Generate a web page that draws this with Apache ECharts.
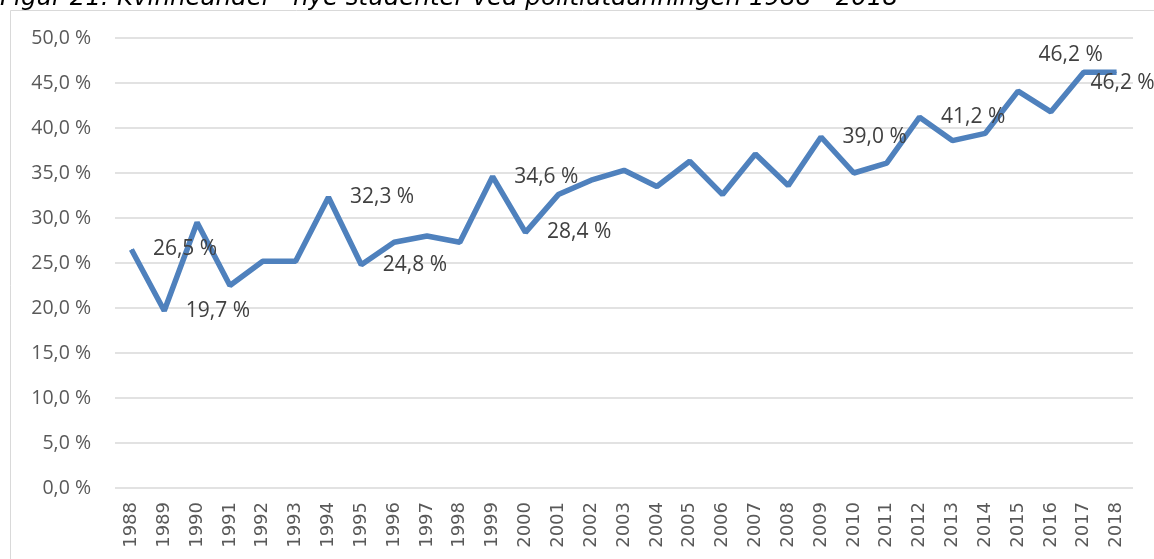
<!DOCTYPE html>
<html>
<head>
<meta charset="utf-8">
<script src="https://cdn.jsdelivr.net/npm/echarts@6/dist/echarts.min.js"></script>
<style>
  html, body { margin: 0; padding: 0; background: #fff; }
  #main { width: 1154px; height: 559px; }
</style>
</head>
<body>
<div id="main"></div>
<script>
// år og kvinneandel (%)
var years = ['1988','1989','1990','1991','1992','1993','1994','1995','1996','1997','1998',
  '1999','2000','2001','2002','2003','2004','2005','2006','2007','2008','2009','2010',
  '2011','2012','2013','2014','2015','2016','2017','2018'];
var andel = [26.5, 19.7, 29.5, 22.5, 25.2, 25.2, 32.3, 24.8, 27.3, 28.0, 27.3,
  34.6, 28.4, 32.6, 34.2, 35.3, 33.5, 36.3, 32.6, 37.1, 33.6, 39.0, 35.0,
  36.1, 41.2, 38.6, 39.4, 44.1, 41.8, 46.2, 46.2];
// hvilke år som har datamerke
var merkeAar = ['1988','1989','1994','1995','1999','2000','2009','2012','2017','2018'];
var tittel = 'Figur 21: Kvinneandel - nye studenter ved politiutdanningen 1988 - 2018';

function pst(v) {
  return v.toFixed(1).replace('.', ',') + ' %';
}

var seriesData = andel.map(function (v, i) {
  var y = years[i];
  if (merkeAar.indexOf(y) < 0) return v;
  var lbl = { show: true, position: 'right', distance: 21 };
  if (y === '2017') lbl = { show: true, position: 'top', distance: 6, offset: [-13, 0] };
  if (y === '2018') lbl = { show: true, position: 'bottom', distance: 0, offset: [6, 0] };
  return { value: v, label: lbl };
});

var myChart = echarts.init(document.getElementById('main'));
myChart.setOption({
  animation: false,
  backgroundColor: '#fff',
  graphic: [
    {
      type: 'rect', silent: true, z: -1,
      shape: { x: 10.5, y: 10.5, width: 1300, height: 700 },
      style: { fill: 'none', stroke: '#d9d9d9', lineWidth: 1 }
    },
    {
      type: 'text', silent: true,
      style: {
        x: 0, y: 11, text: tittel, fill: '#000',
        font: 'italic 24.5px "DejaVu Sans"',
        verticalAlign: 'bottom'
      }
    }
  ],
  grid: { left: 115, right: 21, top: 38, bottom: 71 },
  xAxis: {
    type: 'category',
    data: years,
    boundaryGap: true,
    axisLine: { show: false },
    axisTick: { show: false },
    axisLabel: {
      rotate: 90, interval: 0, margin: 14,
      color: '#595959', fontFamily: 'DejaVu Sans', fontSize: 18
    }
  },
  yAxis: {
    type: 'value',
    min: 0, max: 50, interval: 5,
    axisLine: { show: false },
    axisTick: { show: false },
    splitLine: { lineStyle: { color: '#d9d9d9', width: 1.5 } },
    axisLabel: {
      margin: 24, color: '#595959', fontFamily: 'Open Sans', fontSize: 19.5,
      formatter: function (v) { return pst(v); }
    }
  },
  series: [{
    type: 'line',
    data: seriesData,
    symbol: 'circle',
    symbolSize: 1,
    showSymbol: true,
    itemStyle: { color: '#4f81bd' },
    lineStyle: { color: '#4f81bd', width: 5.5 },
    label: {
      show: false,
      color: '#404040', fontFamily: 'Open Sans', fontSize: 21,
      formatter: function (p) { return pst(p.value); }
    }
  }]
});
</script>
</body>
</html>
